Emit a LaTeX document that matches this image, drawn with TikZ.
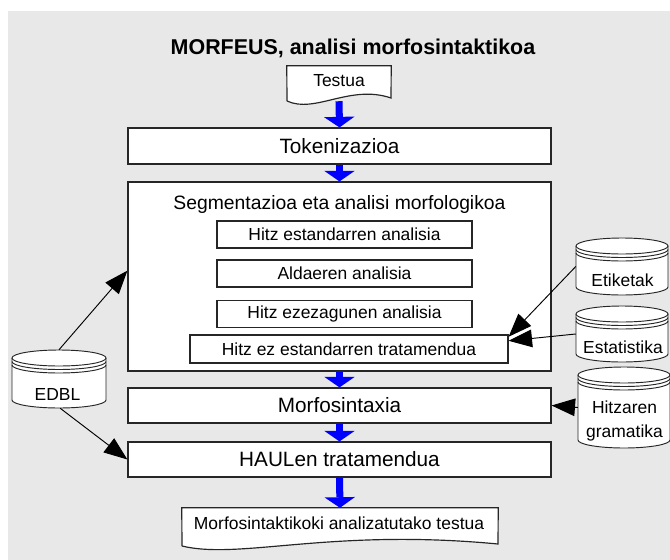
\documentclass[tikz,border=0pt]{standalone}
\usepackage{fontspec}
\setmainfont{Liberation Sans}
\usetikzlibrary{arrows.meta,positioning,calc,fit}
\definecolor{bggray}{HTML}{E8E8E8}
\tikzset{
  box/.style={rectangle, draw=black!85, fill=white, line width=1pt, inner sep=0pt},
  doc/.style={draw=black!85, fill=white, line width=1pt},
  flow/.style={draw=blue, line width=6pt, -{Triangle[length=9pt,width=26pt,line width=0pt]}},
  dep/.style={draw=black, line width=0.8pt, -{Triangle[length=20pt,width=15pt]}},
  dbline/.style={draw=black!85, line width=0.8pt},
  big/.style={font=\fontsize{17.7}{20}\selectfont},
  mid/.style={font=\fontsize{14.9}{17}\selectfont},
}
% Datenbank-Zylinder: Name, x-Mitte, oben, unten, halbe Breite
\newcommand{\dbcyl}[5]{%
  \pgfmathsetmacro\cyL{#2-#5}\pgfmathsetmacro\cyR{#2+#5}
  \pgfmathsetmacro\cyKL{#2-0.552*#5}\pgfmathsetmacro\cyKR{#2+0.552*#5}
  \pgfmathsetmacro\cyT{#3+8}\pgfmathsetmacro\cyB{#4-8}
  % Koerper
  \draw[dbline, fill=white] (\cyL,\cyT) -- (\cyL,\cyB) .. controls (\cyL,\cyB+4.4) and (\cyKL,\cyB+8) .. (#2,\cyB+8) .. controls (\cyKR,\cyB+8) and (\cyR,\cyB+4.4) .. (\cyR,\cyB) -- (\cyR,\cyT);
  % Deckel
  \draw[dbline, fill=white] (#2,\cyT) ellipse [x radius=#5, y radius=8];
  % Ringe
  \foreach \dd in {3.5,7}
    \draw[dbline] (\cyL,\cyT+\dd) .. controls (\cyL,\cyT+\dd+4.4) and (\cyKL,\cyT+\dd+8) .. (#2,\cyT+\dd+8) .. controls (\cyKR,\cyT+\dd+8) and (\cyR,\cyT+\dd+4.4) .. (\cyR,\cyT+\dd);
  \node[fit={(\cyL,#3) (\cyR,#4)}, inner sep=0pt] (#1) {};
}

\begin{document}
\begin{tikzpicture}[x=0.03cm,y=-0.03cm]
        % Umgebung
        \useasboundingbox (0,0) rectangle (670,560);
        \fill[bggray] (8,11) rectangle (670,560);
        % Titel
        \node[font=\fontsize{18.3}{21}\selectfont\bfseries] (title) at (353,48) {MORFEUS, analisi morfosintaktikoa};
        % Dokument - Testua
        \node[minimum width=3.12cm, minimum height=0.93cm, inner sep=0pt] (testua) at (339,81.5) {};
        \draw[doc] (287,101) -- (testua.north west) -- (testua.north east) -- (391,98) .. controls (350,84) and (315,114) .. (287,101);
        \node[mid] (testua-txt) at (339,81) {Testua};
        % Rechteck - Tokenizazioa
        \node[box, big, minimum width=12.69cm, minimum height=1.08cm] (tok) at (339.5,146) {Tokenizazioa};
        % Rechteck - Segmentazioa
        \node[box, minimum width=12.69cm, minimum height=5.67cm] (segm) at (339.5,276.5) {};
        \node[font=\fontsize{16.5}{19}\selectfont] (segm-title) at (339.5,204) {Segmentazioa eta analisi morfologikoa};
        % innere Rechtecke
        \node[box, mid, minimum width=7.65cm, minimum height=0.81cm] (hitz1) at (344.5,234.5) {Hitz estandarren analisia};
        \node[box, mid, minimum width=7.65cm, minimum height=0.81cm] (hitz2) at (344.5,273.5) {Aldaeren analisia};
        \node[box, mid, minimum width=7.65cm, minimum height=0.81cm] (hitz3) at (344.5,314) {Hitz ezezagunen analisia};
        \node[box, mid, minimum width=9.54cm, minimum height=0.84cm] (hitz4) at (349,349) {Hitz ez estandarren tratamendua};
        % Rechteck - Morfosintaxia
        \node[box, big, minimum width=12.69cm, minimum height=1.05cm] (morf) at (339.5,405.5) {Morfosintaxia};
        % Rechteck - HAULen
        \node[box, big, minimum width=12.69cm, minimum height=1.05cm] (haul) at (339.5,459.5) {HAULen tratamendua};
        % Dokument - Ergebnis
        \node[minimum width=9.48cm, minimum height=1.02cm, inner sep=0pt] (result) at (340,525) {};
        \draw[doc] (182,546) -- (result.north west) -- (result.north east) -- (498,544) .. controls (330,528) and (240,560) .. (182,546);
        \node[mid] (result-txt) at (339,523) {Morfosintaktikoki analizatutako testua};
        % blaue Pfeile
        \draw[flow] ($(testua.south)+(0,4)$) -- (tok.north);
        \draw[flow] (tok.south) -- (segm.north);
        \draw[flow] (segm.south) -- (morf.north);
        \draw[flow] (morf.south) -- (haul.north);
        \draw[flow] (haul.south) -- (result.north);
        % Datenbanken
        \dbcyl{edbl}{59}{350}{408}{47}
        \node[mid] (edbl-txt) at (57.5,394) {EDBL};
        \dbcyl{etiketak}{622}{238}{295}{46}
        \node[mid] (etiketak-txt) at (622.5,280) {Etiketak};
        \dbcyl{estat}{622}{306}{362}{46}
        \node[mid] (estat-txt) at (623,347) {Estatistika};
        \dbcyl{gram}{624}{367}{448}{46}
        \node[mid, font=\fontsize{14.9}{20.5}\selectfont, align=center, inner sep=0pt] (gram-txt) at (624.5,421) {Hitzaren\\gramatika};
        % schwarze Pfeile
        \draw[dep] (edbl.north) -- ([yshift=5pt]segm.west);
        \draw[dep] ([xshift=1pt]edbl.south) -- (haul.west);
        \draw[dep] (etiketak.west) -- ([yshift=-2pt]hitz4.north east);
        \draw[dep] (estat.west) -- ([yshift=7pt]hitz4.east);
        \draw[dep] (gram.west) -- (morf.east);
    \end{tikzpicture}
\end{document}
